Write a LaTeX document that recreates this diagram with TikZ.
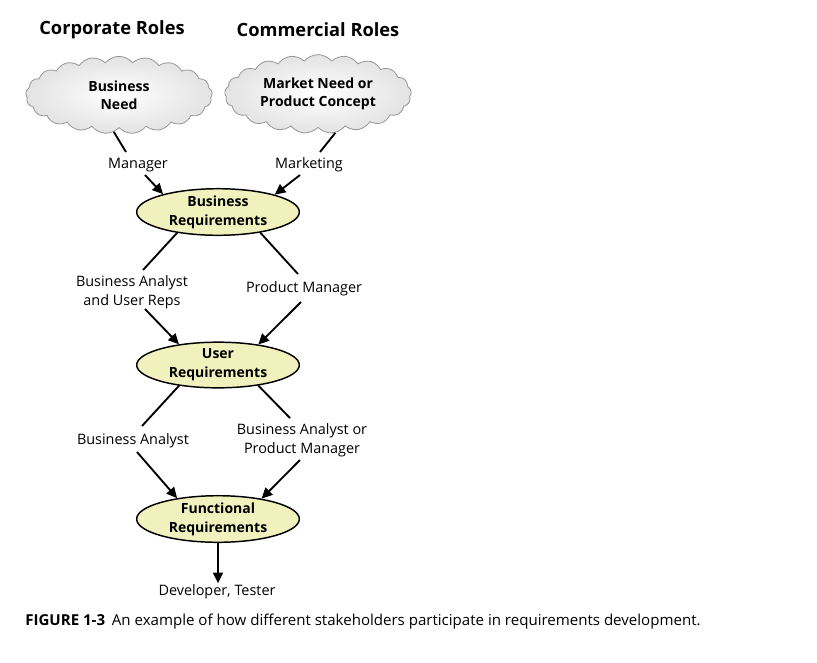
\documentclass[tikz,border=0pt]{standalone}
\usepackage{fontspec}
\setmainfont{Open Sans}
\usetikzlibrary{shapes.symbols,shapes.geometric,arrows.meta}
\definecolor{reqfill}{RGB}{241,241,189}
\definecolor{cloudedge}{RGB}{150,150,150}
\begin{document}
\begin{tikzpicture}[x=0.75pt,y=-0.75pt,
  req/.style={ellipse,draw,line width=1.1pt,fill=reqfill,minimum width=122pt,minimum height=32pt,inner sep=0pt,align=center,font=\bfseries\fontsize{10.5}{14.2}\selectfont},
  lbl/.style={align=center,font=\fontsize{10.8}{14}\selectfont,inner sep=1pt},
  head/.style={font=\bfseries\fontsize{13.7}{17}\selectfont,inner sep=0pt},
  cloudn/.style={cloud,cloud puffs=21,cloud puff arc=100,aspect=2.4,draw=cloudedge,line width=0.6pt,inner color=white,outer color=gray!22,minimum width=140pt,minimum height=58pt,inner sep=0pt,align=center,font=\bfseries\fontsize{10.5}{13.8}\selectfont},
  conn/.style={line width=1.4pt},
  arr/.style={conn,-{Triangle[length=8pt,width=7.5pt]}},
  ]
\useasboundingbox (0,0) rectangle (817,662);
% headings
\node[head] (h1) at (112,30) {Corporate Roles};
\node[head] (h2) at (318,30) {Commercial Roles};
% clouds
\node[cloudn] (c1) at (119,95) {Business\\Need};
\node[cloudn] (c2) at (318,94) {Market Need or\\Product Concept};
% requirement ellipses
\node[req] (br) at (218,212) {Business\\Requirements};
\node[req] (ur) at (218,365) {User\\Requirements};
\node[req] (fr) at (218,519) {Functional\\Requirements};
% labels
\node[lbl] (mgr) at (138,165) {Manager};
\node[lbl] (mkt) at (309,165) {Marketing};
\node[lbl] (baur) at (132,292) {Business Analyst\\and User Reps};
\node[lbl] (pm) at (304,289) {Product Manager};
\node[lbl] (ba) at (133,441) {Business Analyst};
\node[lbl] (bapm) at (302,440) {Business Analyst or\\Product Manager};
\node[lbl] (dt) at (217,592) {Developer, Tester};
% connector end points
\coordinate (m1) at (126,152);
\coordinate (m2) at (145,175);
\coordinate (k1) at (320,152);
\coordinate (k2) at (300,175);
\coordinate (b1) at (143,270);
\coordinate (b2) at (145,309);
\coordinate (p1) at (298,274);
\coordinate (p2) at (301,302);
\coordinate (a1) at (142,426);
\coordinate (a2) at (137,452);
\coordinate (q1) at (290,418);
\coordinate (q2) at (300,460);
% connectors
\draw[conn] (c1.262) -- (m1);
\draw[arr] (m2) -- (br.162);
\draw[conn] (c2.294) -- (k1);
\draw[arr] (k2) -- (br.17);
\draw[conn] (br.207) -- (b1);
\draw[arr] (b2) -- (ur.152);
\draw[conn] (br.-26) -- (p1);
\draw[arr] (p2) -- (ur.27);
\draw[conn] (ur.208) -- (a1);
\draw[arr] (a2) -- (fr.153);
\draw[conn] (ur.-27) -- (q1);
\draw[arr] (q2) -- (fr.25);
\draw[arr] (fr.south) -- (fr.south |- dt.north);
% caption
\node[anchor=west,inner sep=0pt,font=\fontsize{11.3}{13}\selectfont] (cap) at (25,622) {\textbf{FIGURE 1-3}\hspace{0.45em}An example of how different stakeholders participate in requirements development.};
\end{tikzpicture}
\end{document}
